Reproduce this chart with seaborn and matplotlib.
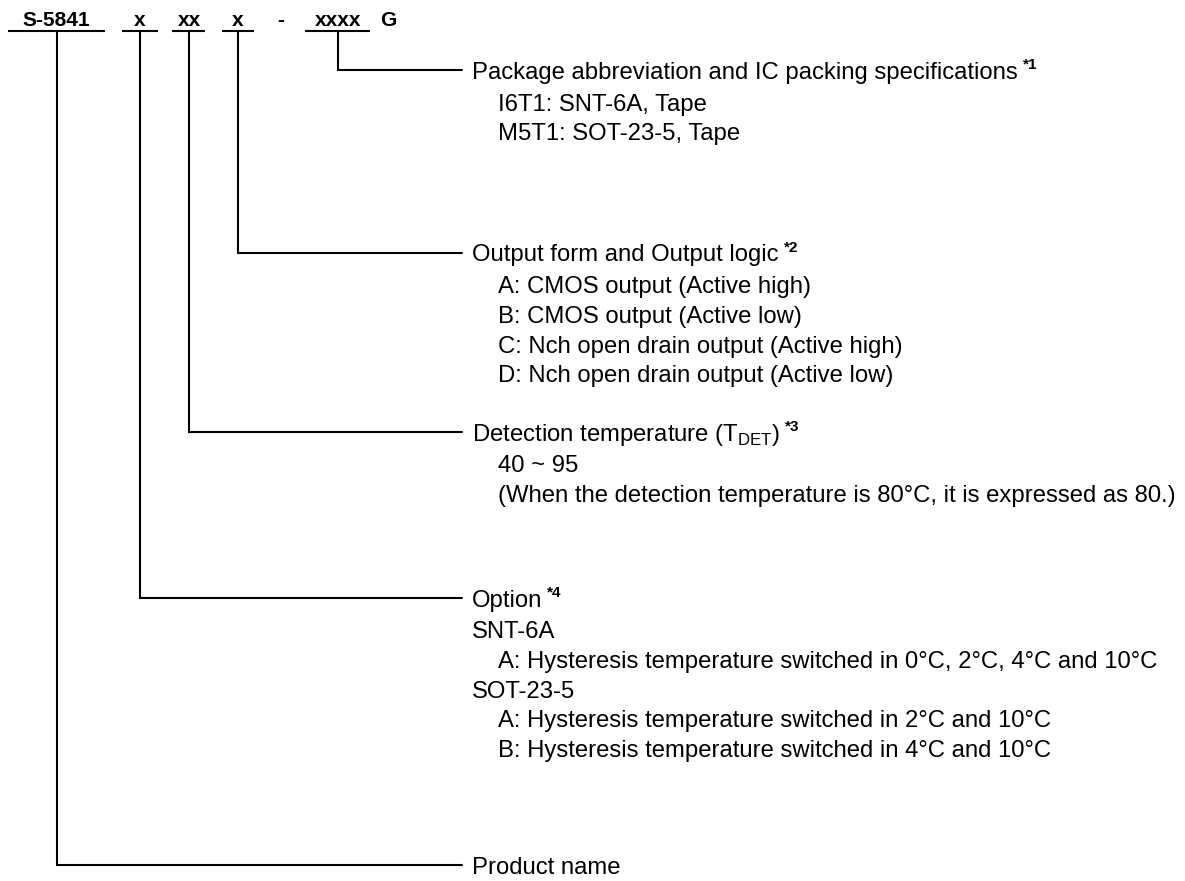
import matplotlib
matplotlib.use("Agg")
import matplotlib.pyplot as plt
import seaborn as sns

sns.set_theme(style="white")
plt.rcParams['font.family'] = ['Liberation Sans', 'DejaVu Sans']
plt.rcParams['mathtext.fontset'] = 'custom'
plt.rcParams['mathtext.rm'] = 'Liberation Sans'

# product code pieces along the top
code_parts = ["S-5841", "x", "xx", "x", "-", "xxxx", "G"]
# which code piece each description hangs from (index into code_parts)
branch_of = [5, 3, 2, 1, 0]
branch_titles = [
    "Package abbreviation and IC packing specifications",
    "Output form and Output logic",
    "Detection temperature (T$_\\mathregular{DET}$)",
    "Option",
    "Product name",
]
branch_notes = ["*1", "*2", "*3", "*4", ""]
# sub lines: (text, indented?)
branch_items = [
    [("I6T1: SNT-6A, Tape", True), ("M5T1: SOT-23-5, Tape", True)],
    [("A: CMOS output (Active high)", True),
     ("B: CMOS output (Active low)", True),
     ("C: Nch open drain output (Active high)", True),
     ("D: Nch open drain output (Active low)", True)],
    [("40 ~ 95", True),
     ("(When the detection temperature is 80\u00b0C, it is expressed as 80.)", True)],
    [("SNT-6A", False),
     ("A: Hysteresis temperature switched in 0\u00b0C, 2\u00b0C, 4\u00b0C and 10\u00b0C", True),
     ("SOT-23-5", False),
     ("A: Hysteresis temperature switched in 2\u00b0C and 10\u00b0C", True),
     ("B: Hysteresis temperature switched in 4\u00b0C and 10\u00b0C", True)],
    [],
]

# layout (pixel space)
part_x = [56, 140, 189, 238, 281, 338, 388]
underline = {0: (8, 105), 1: (122, 158), 2: (172, 205), 3: (222, 254), 5: (305, 370)}
branch_y = [70, 253, 432, 598, 865]
line_end = 462
text_x = 472
indent_x = 498
row_gap = 29.5
lw = 1.5
body_fs = 17.2
head_fs = 15

fig = plt.figure(figsize=(11.85, 8.81), dpi=100)
ax = fig.add_axes([0, 0, 1, 1])
ax.set_xlim(0, 1185)
ax.set_ylim(881, 0)
ax.axis('off')

# header
for i, lab in enumerate(code_parts):
    ax.text(part_x[i], 26, lab, ha='center', va='baseline',
            fontsize=head_fs, fontweight='bold', color='black')
for i, (x0, x1) in underline.items():
    ax.plot([x0, x1], [31, 31], color='black', lw=lw, solid_capstyle='butt')

renderer = fig.canvas.get_renderer()
inv = ax.transData.inverted()

for k, title in enumerate(branch_titles):
    y = branch_y[k]
    vx = part_x[branch_of[k]]
    if branch_of[k] == 0:
        vx = 57
    ax.plot([vx, vx, line_end], [31, y, y], color='black', lw=lw,
            solid_joinstyle='miter')
    t = ax.text(text_x, y + 8.5, title, ha='left', va='baseline',
                fontsize=body_fs, color='black')
    if branch_notes[k]:
        bb = t.get_window_extent(renderer)
        xe = inv.transform((bb.x1, bb.y1))[0]
        ax.text(xe + 5, y - 1, branch_notes[k], ha='left', va='baseline',
                fontsize=11, fontweight='bold', color='black')
    for j, (txt, ind) in enumerate(branch_items[k]):
        yy = y + 32 + row_gap * j
        ax.text(indent_x if ind else text_x, yy + 8.5, txt, ha='left',
                va='baseline', fontsize=body_fs, color='black')

fig.savefig("out.png", dpi=100, facecolor='white')
